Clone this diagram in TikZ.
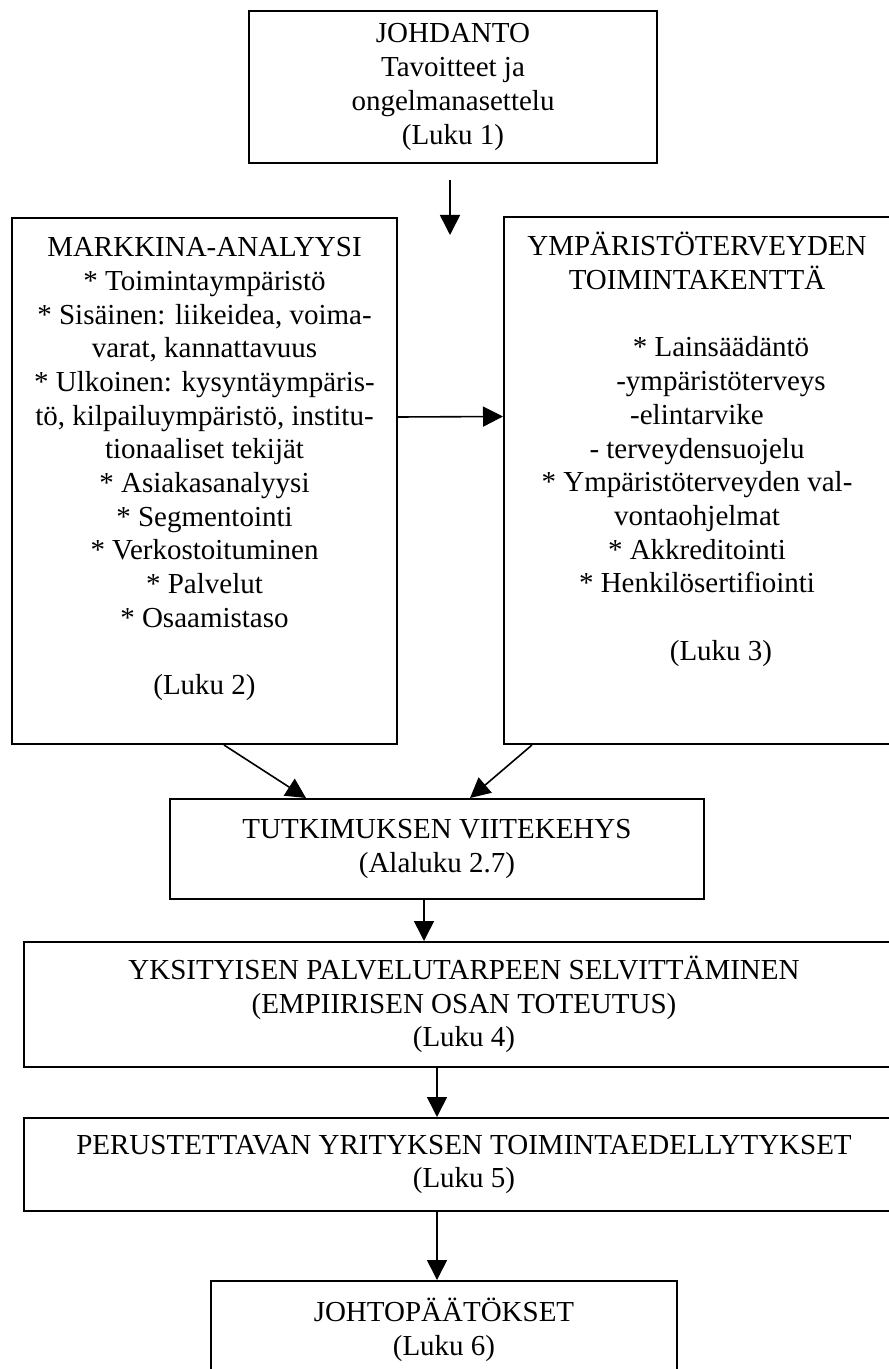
\documentclass[tikz,border=0pt]{standalone}
\usepackage{fontspec}
\setmainfont{Liberation Serif}
\usetikzlibrary{arrows.meta}

\begin{document}
\begin{tikzpicture}[x=0.5pt, y=-0.5pt,
    box/.style={draw, line width=1pt, inner sep=0pt, align=center,
        font=\fontsize{14.5pt}{16.85pt}\selectfont},
    boxtext/.style={inner sep=0pt, align=center,
        font=\fontsize{14.5pt}{16.85pt}\selectfont},
    flow/.style={line width=0.8pt, -{Triangle[length=10pt,width=10pt]}}]

% Fix the size of the page (one unit is one pixel of the scan)
\useasboundingbox (0,0) rectangle (888,1369);

% The introduction at the top and the free arrow below it
\node[box, minimum width=204pt, minimum height=76pt] (intro) at (453,87)
    {JOHDANTO\\Tavoitteet ja\\ongelmanasettelu\\(Luku 1)};
\coordinate (introOut) at (450,180);
\coordinate (introIn) at (450,235);
\draw[flow] (introOut) -- (introIn);

% The two theory boxes side by side; the text starts at the top of each box
\node[box, minimum width=192.5pt, minimum height=263pt] (market) at (204.5,481) {};
\node[boxtext, anchor=north] (marketText) at (204.5,237)
    {MARKKINA-ANALYYSI\\
     {*} Toimintaympäristö\\
     {*} Sisäinen: liikeidea, voima-\\
     varat, kannattavuus\\
     {*} Ulkoinen: kysyntäympäris-\\
     tö, kilpailuympäristö, institu-\\
     tionaaliset tekijät\\
     {*} Asiakasanalyysi\\
     {*} Segmentointi\\
     {*} Verkostoituminen\\
     {*} Palvelut\\
     {*} Osaamistaso\\[16.85pt]
     (Luku 2)};
\node[box, minimum width=193pt, minimum height=263.5pt] (envfield) at (697,480.5) {};
\node[boxtext, anchor=north] (envText) at (697,232)
    {YMPÄRISTÖTERVEYDEN\\
     TOIMINTAKENTTÄ\\[16.85pt]
     \hspace*{24pt}{*} Lainsäädäntö\\
     \hspace*{24pt}-ympäristöterveys\\
     -elintarvike\\
     - terveydensuojelu\\
     {*} Ympäristöterveyden val-\\
     vontaohjelmat\\
     {*} Akkreditointi\\
     {*} Henkilösertifiointi\\[16.85pt]
     \hspace*{24pt}(Luku 3)};
\draw[flow] ([yshift=32pt]market.east) -- ([yshift=32pt]envfield.west);

% Both theory parts lead into the frame of reference
\node[box, minimum width=267pt, minimum height=50pt] (frame) at (437,849)
    {TUTKIMUKSEN VIITEKEHYS\\(Alaluku 2.7)};
\draw[flow] ([xshift=9.75pt]market.south) -- ([xshift=-65.5pt]frame.north);
\draw[flow] ([xshift=-82.5pt]envfield.south) -- ([xshift=16.5pt]frame.north);

% The empirical part and the conclusions below it
\node[box, minimum width=440pt, minimum height=62.5pt] (survey) at (464,1004.5)
    {YKSITYISEN PALVELUTARPEEN SELVITTÄMINEN\\(EMPIIRISEN OSAN TOTEUTUS)\\(Luku 4)};
\node[box, minimum width=440pt, minimum height=46.5pt] (basis) at (464,1164.5)
    {PERUSTETTAVAN YRITYKSEN TOIMINTAEDELLYTYKSET\\(Luku 5)};
\node[box, minimum width=233pt, minimum height=48.5pt] (concl) at (444,1329.5)
    {JOHTOPÄÄTÖKSET\\(Luku 6)};
\foreach \a/\b/\s in {frame/survey/-6.5pt, survey/basis/-13.5pt, basis/concl/-13.5pt}
    \draw[flow] ([xshift=\s]\a.south) -- ([xshift=\s]\a.south |- \b.north);
\end{tikzpicture}
\end{document}
